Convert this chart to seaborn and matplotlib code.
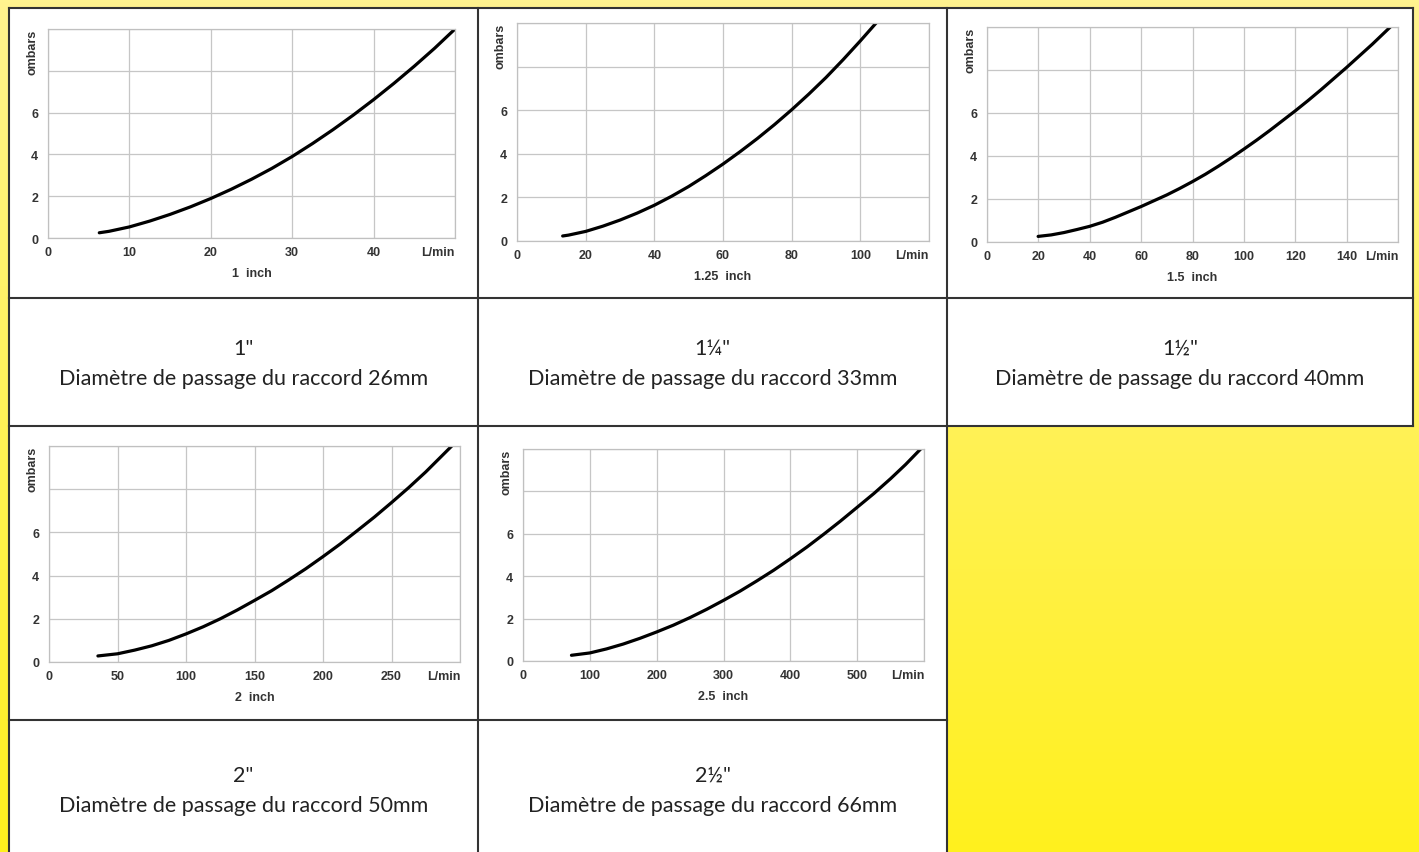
import numpy as np
import matplotlib
matplotlib.use("Agg")
import matplotlib.pyplot as plt
from matplotlib.colors import LinearSegmentedColormap
import seaborn as sns

# pressure drop curves (L/min vs mbars)
flow_1in = [6.3, 7.5, 10, 12.5, 15, 17.5, 20, 22.5, 25, 27.5, 30, 32.5, 35,
            37.5, 40, 42.5, 45, 47.5, 50]
drop_1in = [0.25, 0.32, 0.53, 0.81, 1.13, 1.49, 1.89, 2.33, 2.81, 3.33, 3.9, 4.52,
            5.18, 5.88, 6.62, 7.4, 8.22, 9.08, 10.0]

flow_125in = [13.3, 15, 20, 25, 30, 35, 40, 45, 50, 55, 60, 65, 70, 75, 80, 85,
              90, 95, 100, 104.6]
drop_125in = [0.23, 0.27, 0.44, 0.68, 0.96, 1.28, 1.64, 2.05, 2.5, 3.0, 3.53, 4.1,
              4.7, 5.34, 6.02, 6.74, 7.5, 8.32, 9.18, 10.0]

flow_15in = [19.9, 25, 30, 35, 40, 45, 50, 55, 60, 65, 70, 75, 80, 85, 90, 95,
             100, 105, 110, 115, 120, 125, 130, 135, 140, 145, 150, 157]
drop_15in = [0.26, 0.33, 0.44, 0.58, 0.73, 0.92, 1.15, 1.4, 1.65, 1.92, 2.19, 2.49,
             2.81, 3.15, 3.52, 3.91, 4.32, 4.74, 5.18, 5.64, 6.1, 6.58, 7.08,
             7.6, 8.12, 8.66, 9.2, 10.0]

flow_2in = [35.7, 50, 62.5, 75, 87.5, 100, 112.5, 125, 137.5, 150, 162.5, 175,
            187.5, 200, 212.5, 225, 237.5, 250, 262.5, 275, 294]
drop_2in = [0.28, 0.38, 0.55, 0.75, 1.0, 1.3, 1.63, 2.0, 2.41, 2.85, 3.3, 3.8,
            4.32, 4.88, 5.46, 6.08, 6.71, 7.38, 8.07, 8.8, 10.0]

flow_25in = [72.5, 100, 125, 150, 175, 200, 225, 250, 275, 300, 325, 350, 375,
             400, 425, 450, 475, 500, 525, 550, 572.5, 595]
drop_25in = [0.27, 0.38, 0.57, 0.8, 1.07, 1.37, 1.69, 2.05, 2.44, 2.86, 3.3, 3.78,
             4.28, 4.82, 5.38, 5.98, 6.6, 7.25, 7.9, 8.6, 9.27, 10.0]

chart_labels = ["1  inch", "1.25  inch", "1.5  inch", "2  inch", "2.5  inch"]
x_steps = [10, 20, 20, 50, 100]
x_max = [50, 120, 160, 300, 600]
y_ticks = [0, 2, 4, 6, 8, 10]
y_ticklabels = ["0", "2", "4", "6", "", ""]

sizes = ['1"', '1¼"', '1½"', '2"', '2½"']
bores = ["26mm", "33mm", "40mm", "50mm", "66mm"]

W, H = 1419, 853

sns.set_theme(style="white")
plt.rcParams["font.family"] = ["Liberation Sans", "DejaVu Sans"]

fig = plt.figure(figsize=(W / 100, H / 100), dpi=100)

# yellow gradient background
bg = fig.add_axes([0, 0, 1, 1], zorder=-10)
cmap = LinearSegmentedColormap.from_list("yel", ["#fff38f", "#fff01e"])
bg.imshow(np.linspace(0, 1, 256).reshape(-1, 1), aspect="auto", cmap=cmap,
          extent=[0, 1, 0, 1])
bg.axis("off")

# table overlay in pixel coords
tab = fig.add_axes([0, 0, 1, 1], zorder=-5)
tab.set_xlim(0, W)
tab.set_ylim(H, 0)
tab.axis("off")
tab.patch.set_alpha(0)

L, C1, C2, R = 9, 478, 947, 1413
T, R1, R2, R3 = 9, 299, 427, 721
tab.fill_between([L, R], T, R2, color="white", lw=0)
tab.fill_between([L, C2], R2, H, color="white", lw=0)
line_kw = dict(color="#333333", lw=1.5, solid_capstyle="projecting")
tab.plot([L, R], [T, T], **line_kw)
tab.plot([L, R], [R1, R1], **line_kw)
tab.plot([L, R], [R2, R2], **line_kw)
tab.plot([L, C2], [R3, R3], **line_kw)
tab.plot([L, L], [T, H], **line_kw)
tab.plot([C1, C1], [T, H], **line_kw)
tab.plot([C2, C2], [T, H], **line_kw)
tab.plot([R, R], [T, R2], **line_kw)

# captions
cap_pos = [((L + C1) / 2, 364), ((C1 + C2) / 2, 364), ((C2 + R) / 2, 364),
           ((L + C1) / 2, 791), ((C1 + C2) / 2, 791)]
for (cx, cy), sz, bore in zip(cap_pos, sizes, bores):
    tab.text(cx, cy, f"{sz}\nDiamètre de passage du raccord {bore}",
             ha="center", va="center", fontsize=15.5, color="#222222",
             linespacing=1.65, family=["Lato", "DejaVu Sans"])

# chart boxes: left, right, top, bottom (pixels)
boxes = [(48, 455, 30, 239), (517, 929, 24, 242), (987, 1398, 28, 243),
         (49, 460, 447, 663), (523, 924, 450, 662)]
series = [(flow_1in, drop_1in), (flow_125in, drop_125in), (flow_15in, drop_15in),
          (flow_2in, drop_2in), (flow_25in, drop_25in)]

tick_font = dict(fontsize=9, fontweight="bold", color="#333333")

for (l, r, t, b), (fx, fy), lab, step, xm in zip(boxes, series, chart_labels, x_steps, x_max):
    ax = fig.add_axes([l / W, 1 - b / H, (r - l) / W, (b - t) / H])
    sns.lineplot(x=fx, y=fy, ax=ax, color="black", linewidth=2.3,
                 solid_capstyle="round", solid_joinstyle="round")
    ax.set_xlim(0, xm)
    ax.set_ylim(0, 10)
    xt = list(range(0, xm + 1, step))
    ax.set_xticks(xt)
    ax.set_xticklabels([str(v) for v in xt[:-1]] + ["L/min"], **tick_font)
    ax.get_xticklabels()[-1].set_horizontalalignment("right")
    ax.set_yticks(y_ticks)
    ax.set_yticklabels(y_ticklabels, **tick_font)
    ax.tick_params(axis="x", length=0, pad=6)
    ax.tick_params(axis="y", length=0, pad=7)
    ax.grid(True, color="#c6c6c6", lw=0.9)
    ax.set_facecolor("white")
    for sp in ax.spines.values():
        sp.set_color("#c0c0c0")
        sp.set_linewidth(0.9)
    ax.set_xlabel("")
    ax.set_ylabel("")
    ax.annotate(lab, xy=(0.5, 0), xycoords="axes fraction", xytext=(0, -35),
                textcoords="offset pixels", ha="center", va="center", **tick_font)
    ax.annotate("ombars", xy=(0, 1), xycoords="axes fraction", xytext=(-16, 0),
                textcoords="offset pixels", ha="center", va="top", rotation=90,
                **tick_font)

fig.savefig("out.png", dpi=100)
